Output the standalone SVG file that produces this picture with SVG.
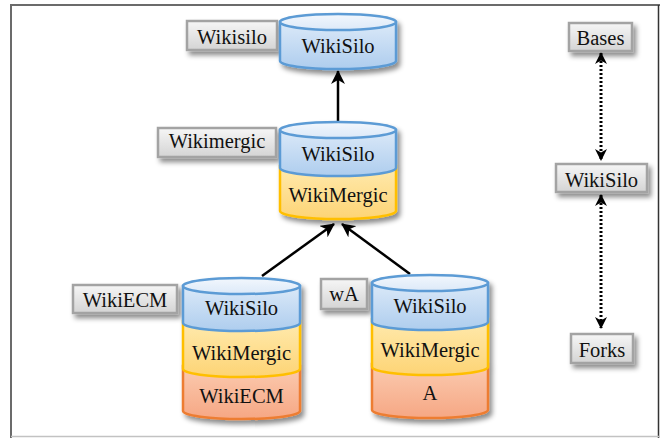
<svg xmlns="http://www.w3.org/2000/svg" width="660" height="438" viewBox="0 0 660 438" font-family="'Liberation Serif', 'Times New Roman', serif">
  <defs>
    <linearGradient id="gBlue" x1="0" y1="0" x2="0" y2="1">
      <stop offset="0" stop-color="#dbe9f8"/>
      <stop offset="1" stop-color="#aecdee"/>
    </linearGradient>
    <linearGradient id="gBlueTop" x1="0" y1="0" x2="0" y2="1">
      <stop offset="0" stop-color="#f2f7fd"/>
      <stop offset="1" stop-color="#dce9f8"/>
    </linearGradient>
    <linearGradient id="gYellow" x1="0" y1="0" x2="0" y2="1">
      <stop offset="0" stop-color="#ffeaae"/>
      <stop offset="1" stop-color="#fdd475"/>
    </linearGradient>
    <linearGradient id="gOrange" x1="0" y1="0" x2="0" y2="1">
      <stop offset="0" stop-color="#fbcbb0"/>
      <stop offset="1" stop-color="#f6a784"/>
    </linearGradient>
    <linearGradient id="gTag" x1="0" y1="0" x2="0" y2="1">
      <stop offset="0" stop-color="#f6f6f6"/>
      <stop offset="1" stop-color="#d4d4d4"/>
    </linearGradient>
    <filter id="shadow" x="-20%" y="-20%" width="150%" height="160%">
      <feDropShadow dx="3" dy="4" stdDeviation="2.5" flood-color="#000" flood-opacity="0.45"/>
    </filter>
    <marker id="head" viewBox="0 0 14 14" refX="13" refY="7" markerWidth="14" markerHeight="14" markerUnits="userSpaceOnUse" orient="auto">
      <path d="M0,0 L14,7 L0,14 L4,7 Z" fill="#000"/>
    </marker>
    <marker id="headS" viewBox="0 0 12 12" refX="11" refY="6" markerWidth="12" markerHeight="12" markerUnits="userSpaceOnUse" orient="auto-start-reverse">
      <path d="M0,0 L12,6 L0,12 L3.5,6 Z" fill="#000"/>
    </marker>
    <style>
      text { font-family: 'Liberation Serif', 'Times New Roman', serif; font-size: 20.5px; fill: #111; text-anchor: middle; }
      .tag { fill: url(#gTag); stroke: #a3a3a3; stroke-width: 2.5; filter: url(#shadow); }
      .blue { fill: url(#gBlue); stroke: #5b9bd5; stroke-width: 2.5; }
      .lid { fill: url(#gBlueTop); stroke: #5b9bd5; stroke-width: 2.5; }
      .yellow { fill: url(#gYellow); stroke: #ffbf00; stroke-width: 2.5; }
      .orange { fill: url(#gOrange); stroke: #ed7d31; stroke-width: 2.5; }
      .stack { filter: url(#shadow); }
      .link { stroke: #000; stroke-width: 2.5; fill: none; marker-end: url(#head); }
      .dot { stroke: #000; stroke-width: 3; stroke-dasharray: 2 2; fill: none; marker-start: url(#headS); marker-end: url(#headS); }
    </style>
  </defs>

  <!-- frame -->
  <g id="frame" fill="none">
    <line x1="11" y1="5" x2="660" y2="5" stroke="#6b6b6b" stroke-width="2"/>
    <line x1="11" y1="4" x2="11" y2="438" stroke="#6b6b6b" stroke-width="2"/>
    <line x1="658.5" y1="5" x2="658.5" y2="438" stroke="#333" stroke-width="1.5"/>
    <line x1="11" y1="436.5" x2="660" y2="436.5" stroke="#c2c2c2" stroke-width="1.5"/>
  </g>

  <!-- connectors -->
  <g id="connectors">
    <line class="link" x1="338" y1="121" x2="338" y2="71"/>
    <line class="link" x1="262" y1="276" x2="334" y2="224"/>
    <line class="link" x1="410" y1="274" x2="342" y2="224"/>
    <line class="dot" x1="601" y1="53" x2="601" y2="160"/>
    <line class="dot" x1="601" y1="195" x2="601" y2="328"/>
  </g>

  <!-- top: WikiSilo -->
  <g id="wikisilo-top">
    <rect class="tag" x="187" y="21" width="90" height="29"/>
    <text x="232" y="44">Wikisilo</text>
    <g class="stack">
      <path class="blue" d="M280,22 L280,61 A58,8 0 0 0 396,61 L396,22 Z"/>
      <ellipse class="lid" cx="338" cy="22" rx="58" ry="8"/>
    </g>
    <text x="338" y="53">WikiSilo</text>
  </g>

  <!-- middle: Wikimergic -->
  <g id="wikimergic">
    <rect class="tag" x="158" y="128" width="118" height="29"/>
    <text x="217" y="148">Wikimergic</text>
    <g class="stack">
      <path class="yellow" d="M280,166 L280,211 A58,8 0 0 0 396,211 L396,166 Z"/>
      <path class="blue" d="M280,130 L280,168 A58,8 0 0 0 396,168 L396,130 Z"/>
      <ellipse class="lid" cx="338" cy="130" rx="58" ry="8"/>
    </g>
    <text x="338" y="161">WikiSilo</text>
    <text x="338" y="202">WikiMergic</text>
  </g>

  <!-- bottom left: WikiECM -->
  <g id="wikiecm">
    <rect class="tag" x="73" y="285" width="104" height="28"/>
    <text x="125" y="307">WikiECM</text>
    <g class="stack">
      <path class="orange" d="M183,366 L183,411 A58.5,8 0 0 0 300,411 L300,366 Z"/>
      <path class="yellow" d="M183,321 L183,369 A58.5,8 0 0 0 300,369 L300,321 Z"/>
      <path class="blue" d="M183,286 L183,323 A58.5,8 0 0 0 300,323 L300,286 Z"/>
      <ellipse class="lid" cx="241.5" cy="286" rx="58.5" ry="8"/>
    </g>
    <text x="241.5" y="315">WikiSilo</text>
    <text x="241.5" y="360">WikiMergic</text>
    <text x="241.5" y="403">WikiECM</text>
  </g>

  <!-- bottom right: wA -->
  <g id="wa">
    <rect class="tag" x="321" y="279" width="46" height="30"/>
    <text x="344" y="301">wA</text>
    <g class="stack">
      <path class="orange" d="M372,364 L372,410 A58,8 0 0 0 488,410 L488,364 Z"/>
      <path class="yellow" d="M372,319 L372,367 A58,8 0 0 0 488,367 L488,319 Z"/>
      <path class="blue" d="M372,283 L372,322 A58,8 0 0 0 488,322 L488,283 Z"/>
      <ellipse class="lid" cx="430" cy="283" rx="58" ry="8"/>
    </g>
    <text x="430" y="313">WikiSilo</text>
    <text x="430" y="357">WikiMergic</text>
    <text x="430" y="400">A</text>
  </g>

  <!-- legend column -->
  <g id="bases">
    <rect class="tag" x="569" y="23" width="63" height="28"/>
    <text x="600.5" y="45">Bases</text>
  </g>
  <g id="wikisilo-legend">
    <rect class="tag" x="556" y="164" width="91" height="28"/>
    <text x="601.5" y="187">WikiSilo</text>
  </g>
  <g id="forks">
    <rect class="tag" x="571" y="334" width="62" height="29"/>
    <text x="602" y="357">Forks</text>
  </g>
</svg>
